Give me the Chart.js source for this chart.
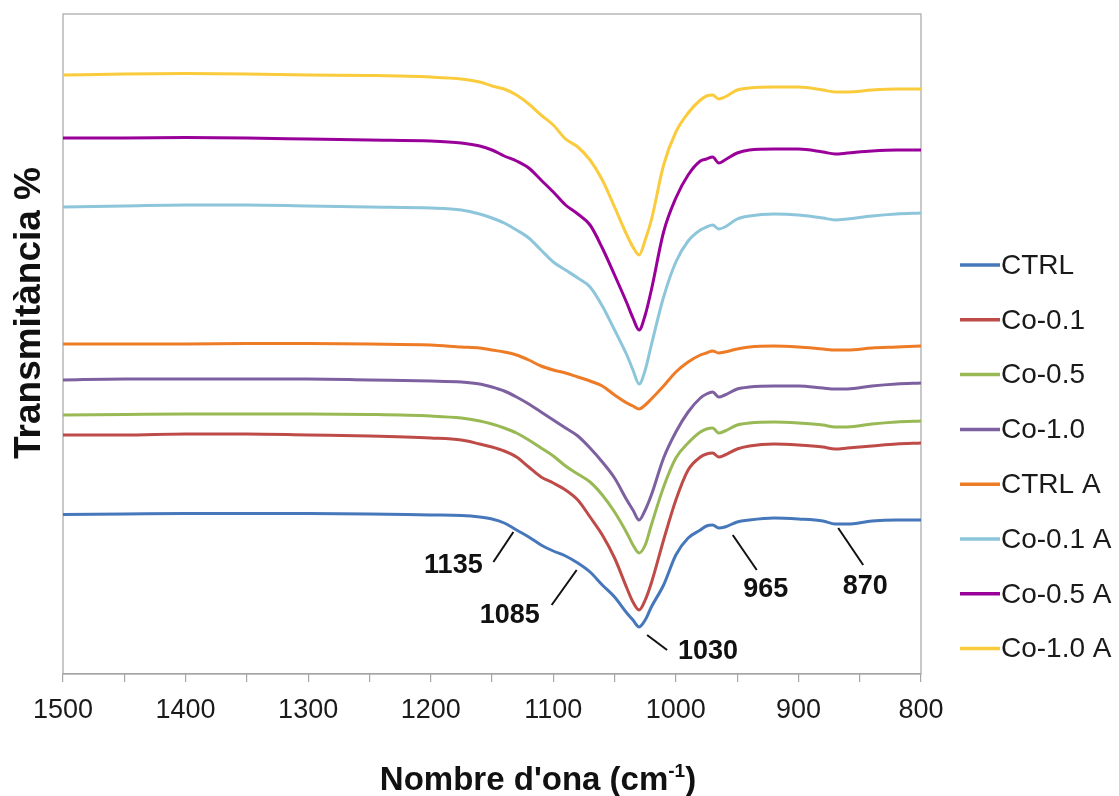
<!DOCTYPE html>
<html>
<head>
<meta charset="utf-8">
<title>Espectres FTIR</title>
<script src="https://cdn.jsdelivr.net/npm/chart.js@4/dist/chart.umd.min.js"></script>
<style>
  html, body { margin: 0; padding: 0; background: #ffffff; }
  #wrap { position: relative; width: 1119px; height: 796px; }
</style>
</head>
<body>
<div id="wrap"><canvas id="chart" width="1119" height="796"></canvas></div>
<script>
// Wavenumbers (cm-1) sampled along each spectrum
const wavenumbers = [1500, 1450, 1400, 1350, 1300, 1250, 1200,
  1175, 1160, 1150, 1140, 1130, 1120, 1110, 1100, 1090, 1080, 1070, 1060, 1050, 1040,
  1035, 1030, 1025, 1020, 1010, 1000, 990, 980, 975, 970, 965, 960, 950, 940, 920, 900, 880, 870, 860, 840, 820, 800];

// Transmittance (%) of each sample, curves stacked with an offset
const ctrl = [15.95, 16.0, 16.05, 16.05, 16.05, 16.0, 15.9,
  15.85, 15.7, 15.5, 15.1, 14.4, 13.7, 12.9, 12.3, 11.8, 11.1, 10.2, 8.9, 7.7, 6.1,
  5.4, 4.7, 5.4, 6.7, 8.9, 11.9, 13.6, 14.4, 14.8, 14.9, 14.6, 14.7, 15.2, 15.4, 15.6, 15.5, 15.3, 15.0, 15.0, 15.3, 15.4, 15.4];
const co01 = [23.9, 23.9, 24.0, 24.0, 23.9, 23.8, 23.6,
  23.4, 23.0, 22.7, 22.3, 21.7, 20.7, 19.7, 19.1, 18.4, 17.4, 15.7, 13.9, 11.6, 8.6,
  7.2, 6.4, 7.4, 9.1, 13.4, 17.4, 20.4, 21.7, 22.0, 22.1, 21.7, 21.9, 22.5, 22.8, 23.0, 22.9, 22.7, 22.5, 22.6, 22.8, 23.0, 23.1];
const co05 = [25.9, 25.95, 26.0, 26.0, 26.0, 25.95, 25.8,
  25.6, 25.3, 25.0, 24.6, 24.1, 23.4, 22.6, 21.8, 20.8, 20.0, 19.2, 17.9, 16.2, 14.1,
  12.9, 12.1, 12.9, 14.9, 18.7, 21.6, 23.1, 24.2, 24.5, 24.6, 24.1, 24.3, 24.9, 25.1, 25.2, 25.1, 24.9, 24.7, 24.7, 25.0, 25.2, 25.3];
const co10 = [29.4, 29.5, 29.5, 29.5, 29.5, 29.4, 29.3,
  29.2, 29.0, 28.7, 28.3, 27.7, 27.0, 26.2, 25.4, 24.6, 23.8, 22.6, 21.2, 19.6, 17.4,
  16.4, 15.4, 16.4, 17.9, 21.6, 24.2, 26.2, 27.6, 28.0, 28.2, 27.7, 27.9, 28.5, 28.7, 28.8, 28.8, 28.6, 28.5, 28.5, 28.8, 29.0, 29.1];
const ctrlA = [33.0, 33.0, 33.0, 33.05, 33.05, 33.0, 32.9,
  32.7, 32.6, 32.4, 32.2, 31.9, 31.4, 30.8, 30.4, 30.1, 29.7, 29.3, 28.8, 27.9, 27.1,
  26.8, 26.5, 26.9, 27.5, 28.8, 30.2, 31.2, 31.9, 32.1, 32.3, 32.1, 32.2, 32.5, 32.7, 32.8, 32.7, 32.5, 32.4, 32.4, 32.6, 32.7, 32.8];
const co01A = [46.7, 46.8, 46.9, 46.9, 46.8, 46.7, 46.6,
  46.4, 46.0, 45.6, 45.1, 44.4, 43.6, 42.4, 41.2, 40.4, 39.6, 38.7, 36.8, 34.4, 31.9,
  30.4, 29.0, 30.4, 32.9, 37.7, 41.2, 43.3, 44.4, 44.7, 44.9, 44.5, 44.7, 45.5, 45.8, 46.0, 45.9, 45.6, 45.4, 45.5, 45.8, 46.0, 46.1];
const co05A = [53.6, 53.6, 53.65, 53.6, 53.5, 53.4, 53.3,
  53.1, 52.8, 52.4, 51.8, 51.3, 50.6, 49.4, 48.2, 46.9, 46.0, 44.9, 42.6, 39.9, 37.1,
  35.6, 34.4, 35.9, 38.4, 44.2, 47.6, 49.9, 51.3, 51.5, 51.7, 51.1, 51.4, 52.1, 52.4, 52.5, 52.5, 52.2, 52.0, 52.1, 52.3, 52.4, 52.4];
const co10A = [59.9, 60.0, 60.05, 60.0, 59.9, 59.85, 59.7,
  59.5, 59.2, 58.8, 58.5, 57.9, 57.0, 55.9, 54.9, 53.5, 52.7, 51.4, 49.4, 46.7, 43.9,
  42.7, 41.9, 43.4, 45.4, 50.9, 54.2, 56.1, 57.4, 57.8, 57.9, 57.5, 57.7, 58.4, 58.6, 58.7, 58.7, 58.4, 58.2, 58.2, 58.4, 58.5, 58.5];

const seriesNames = ['CTRL', 'Co-0.1', 'Co-0.5', 'Co-1.0', 'CTRL A', 'Co-0.1 A', 'Co-0.5 A', 'Co-1.0 A'];
const seriesValues = [ctrl, co01, co05, co10, ctrlA, co01A, co05A, co10A];

// Labelled x ticks
const xTickLabels = [1500, 1400, 1300, 1200, 1100, 1000, 900, 800];

// Band assignments marked on the CTRL spectrum
const bandPositions = [1135, 1085, 1030, 965, 870];
const bandLabels = ['1135', '1085', '1030', '965', '870'];

// ---- styling ----
const seriesColors = ['#4677BA', '#BE4B48', '#98B954', '#7D60A0', '#EE7B26', '#8DC6DB', '#990099', '#F9CB3D'];
const FONT = "'Liberation Sans', Arial, sans-serif";
// leader line start/end and text centre, relative to the point on the curve
const bandLeaders = [
  { a: [3, 5.5], b: [-17, 35.5], t: [-57, 39] },
  { a: [5, 10.5], b: [-20, 45.5], t: [-62, 56] },
  { a: [8, 8], b: [28, 23], t: [69, 25] },
  { a: [14, 7], b: [38, 42], t: [47, 62] },
  { a: [3, 4], b: [28, 41], t: [30, 63] }
];

function ctrlAt(w) {
  for (let i = 0; i < wavenumbers.length - 1; i++) {
    const w0 = wavenumbers[i], w1 = wavenumbers[i + 1];
    if (w <= w0 && w >= w1) {
      const f = (w0 - w) / (w0 - w1);
      return ctrl[i] + f * (ctrl[i + 1] - ctrl[i]);
    }
  }
  return ctrl[ctrl.length - 1];
}

const datasets = seriesNames.map((name, k) => ({
  label: name,
  data: wavenumbers.map((w, i) => ({ x: w, y: seriesValues[k][i] })),
  borderColor: seriesColors[k],
  backgroundColor: seriesColors[k],
  borderWidth: 3,
  pointRadius: 0,
  cubicInterpolationMode: 'monotone',
  fill: false
}));

const decorPlugin = {
  id: 'decor',
  beforeDatasetsDraw(chart) {
    const { ctx, chartArea: a } = chart;
    ctx.save();
    ctx.strokeStyle = '#a6a6a6';
    ctx.lineWidth = 1.2;
    ctx.strokeRect(a.left, a.top, a.right - a.left, a.bottom - a.top);
    ctx.restore();
  },
  afterDatasetsDraw(chart) {
    const { ctx } = chart;
    const xs = chart.scales.x, ys = chart.scales.y;
    ctx.save();
    // band markers
    ctx.strokeStyle = '#111111';
    ctx.lineWidth = 2;
    ctx.fillStyle = '#111111';
    ctx.font = 'bold 27px ' + FONT;
    ctx.textAlign = 'center';
    ctx.textBaseline = 'middle';
    bandPositions.forEach((w, i) => {
      const px = xs.getPixelForValue(w);
      const py = ys.getPixelForValue(ctrlAt(w));
      const L = bandLeaders[i];
      ctx.beginPath();
      ctx.moveTo(px + L.a[0], py + L.a[1]);
      ctx.lineTo(px + L.b[0], py + L.b[1]);
      ctx.stroke();
      ctx.fillText(bandLabels[i], px + L.t[0], py + L.t[1]);
    });

    // legend
    ctx.font = '28px ' + FONT;
    ctx.textAlign = 'left';
    chart.data.datasets.forEach((ds, i) => {
      const y = 265 + i * 54.8;
      ctx.strokeStyle = ds.borderColor;
      ctx.lineWidth = 3.5;
      ctx.beginPath();
      ctx.moveTo(960, y);
      ctx.lineTo(1000, y);
      ctx.stroke();
      ctx.fillStyle = '#1a1a1a';
      ctx.fillText(ds.label, 1001, y + 1);
    });

    // axis titles
    ctx.fillStyle = '#111111';
    ctx.font = 'bold 37px ' + FONT;
    ctx.save();
    ctx.translate(30, 313);
    ctx.rotate(-Math.PI / 2);
    ctx.textAlign = 'center';
    ctx.textBaseline = 'middle';
    ctx.fillText('Transmitància %', 0, 0);
    ctx.restore();

    const main = "Nombre d'ona (cm";
    const sup = '-1';
    const close = ')';
    ctx.textBaseline = 'alphabetic';
    ctx.textAlign = 'left';
    ctx.font = 'bold 33px ' + FONT;
    const wMain = ctx.measureText(main).width;
    const wClose = ctx.measureText(close).width;
    ctx.font = 'bold 19px ' + FONT;
    const wSup = ctx.measureText(sup).width;
    const total = wMain + wSup + wClose;
    let x = 538 - total / 2;
    const base = 790;
    ctx.font = 'bold 33px ' + FONT;
    ctx.fillText(main, x, base);
    x += wMain;
    ctx.font = 'bold 19px ' + FONT;
    ctx.fillText(sup, x, base - 13);
    x += wSup;
    ctx.font = 'bold 33px ' + FONT;
    ctx.fillText(close, x, base);
    ctx.restore();
  }
};

new Chart(document.getElementById('chart'), {
  type: 'line',
  data: { datasets },
  options: {
    responsive: false,
    animation: false,
    events: [],
    layout: { padding: { left: 63, right: 198, top: 14, bottom: 0 } },
    plugins: { legend: { display: false }, tooltip: { enabled: false } },
    scales: {
      x: {
        type: 'linear',
        reverse: true,
        min: 800,
        max: 1500,
        afterFit(scale) { scale.height = 122; },
        border: { color: '#a6a6a6', width: 1.2 },
        grid: { drawOnChartArea: false, drawTicks: true, tickLength: 8, color: '#a6a6a6', lineWidth: 1.2 },
        ticks: {
          stepSize: 50,
          autoSkip: false,
          maxRotation: 0,
          padding: 12,
          color: '#1a1a1a',
          font: { family: FONT, size: 27 },
          callback: (v) => (xTickLabels.includes(v) ? String(v) : '')
        }
      },
      y: {
        display: false,
        min: 0,
        max: 66
      }
    }
  },
  plugins: [decorPlugin]
});
</script>
</body>
</html>
